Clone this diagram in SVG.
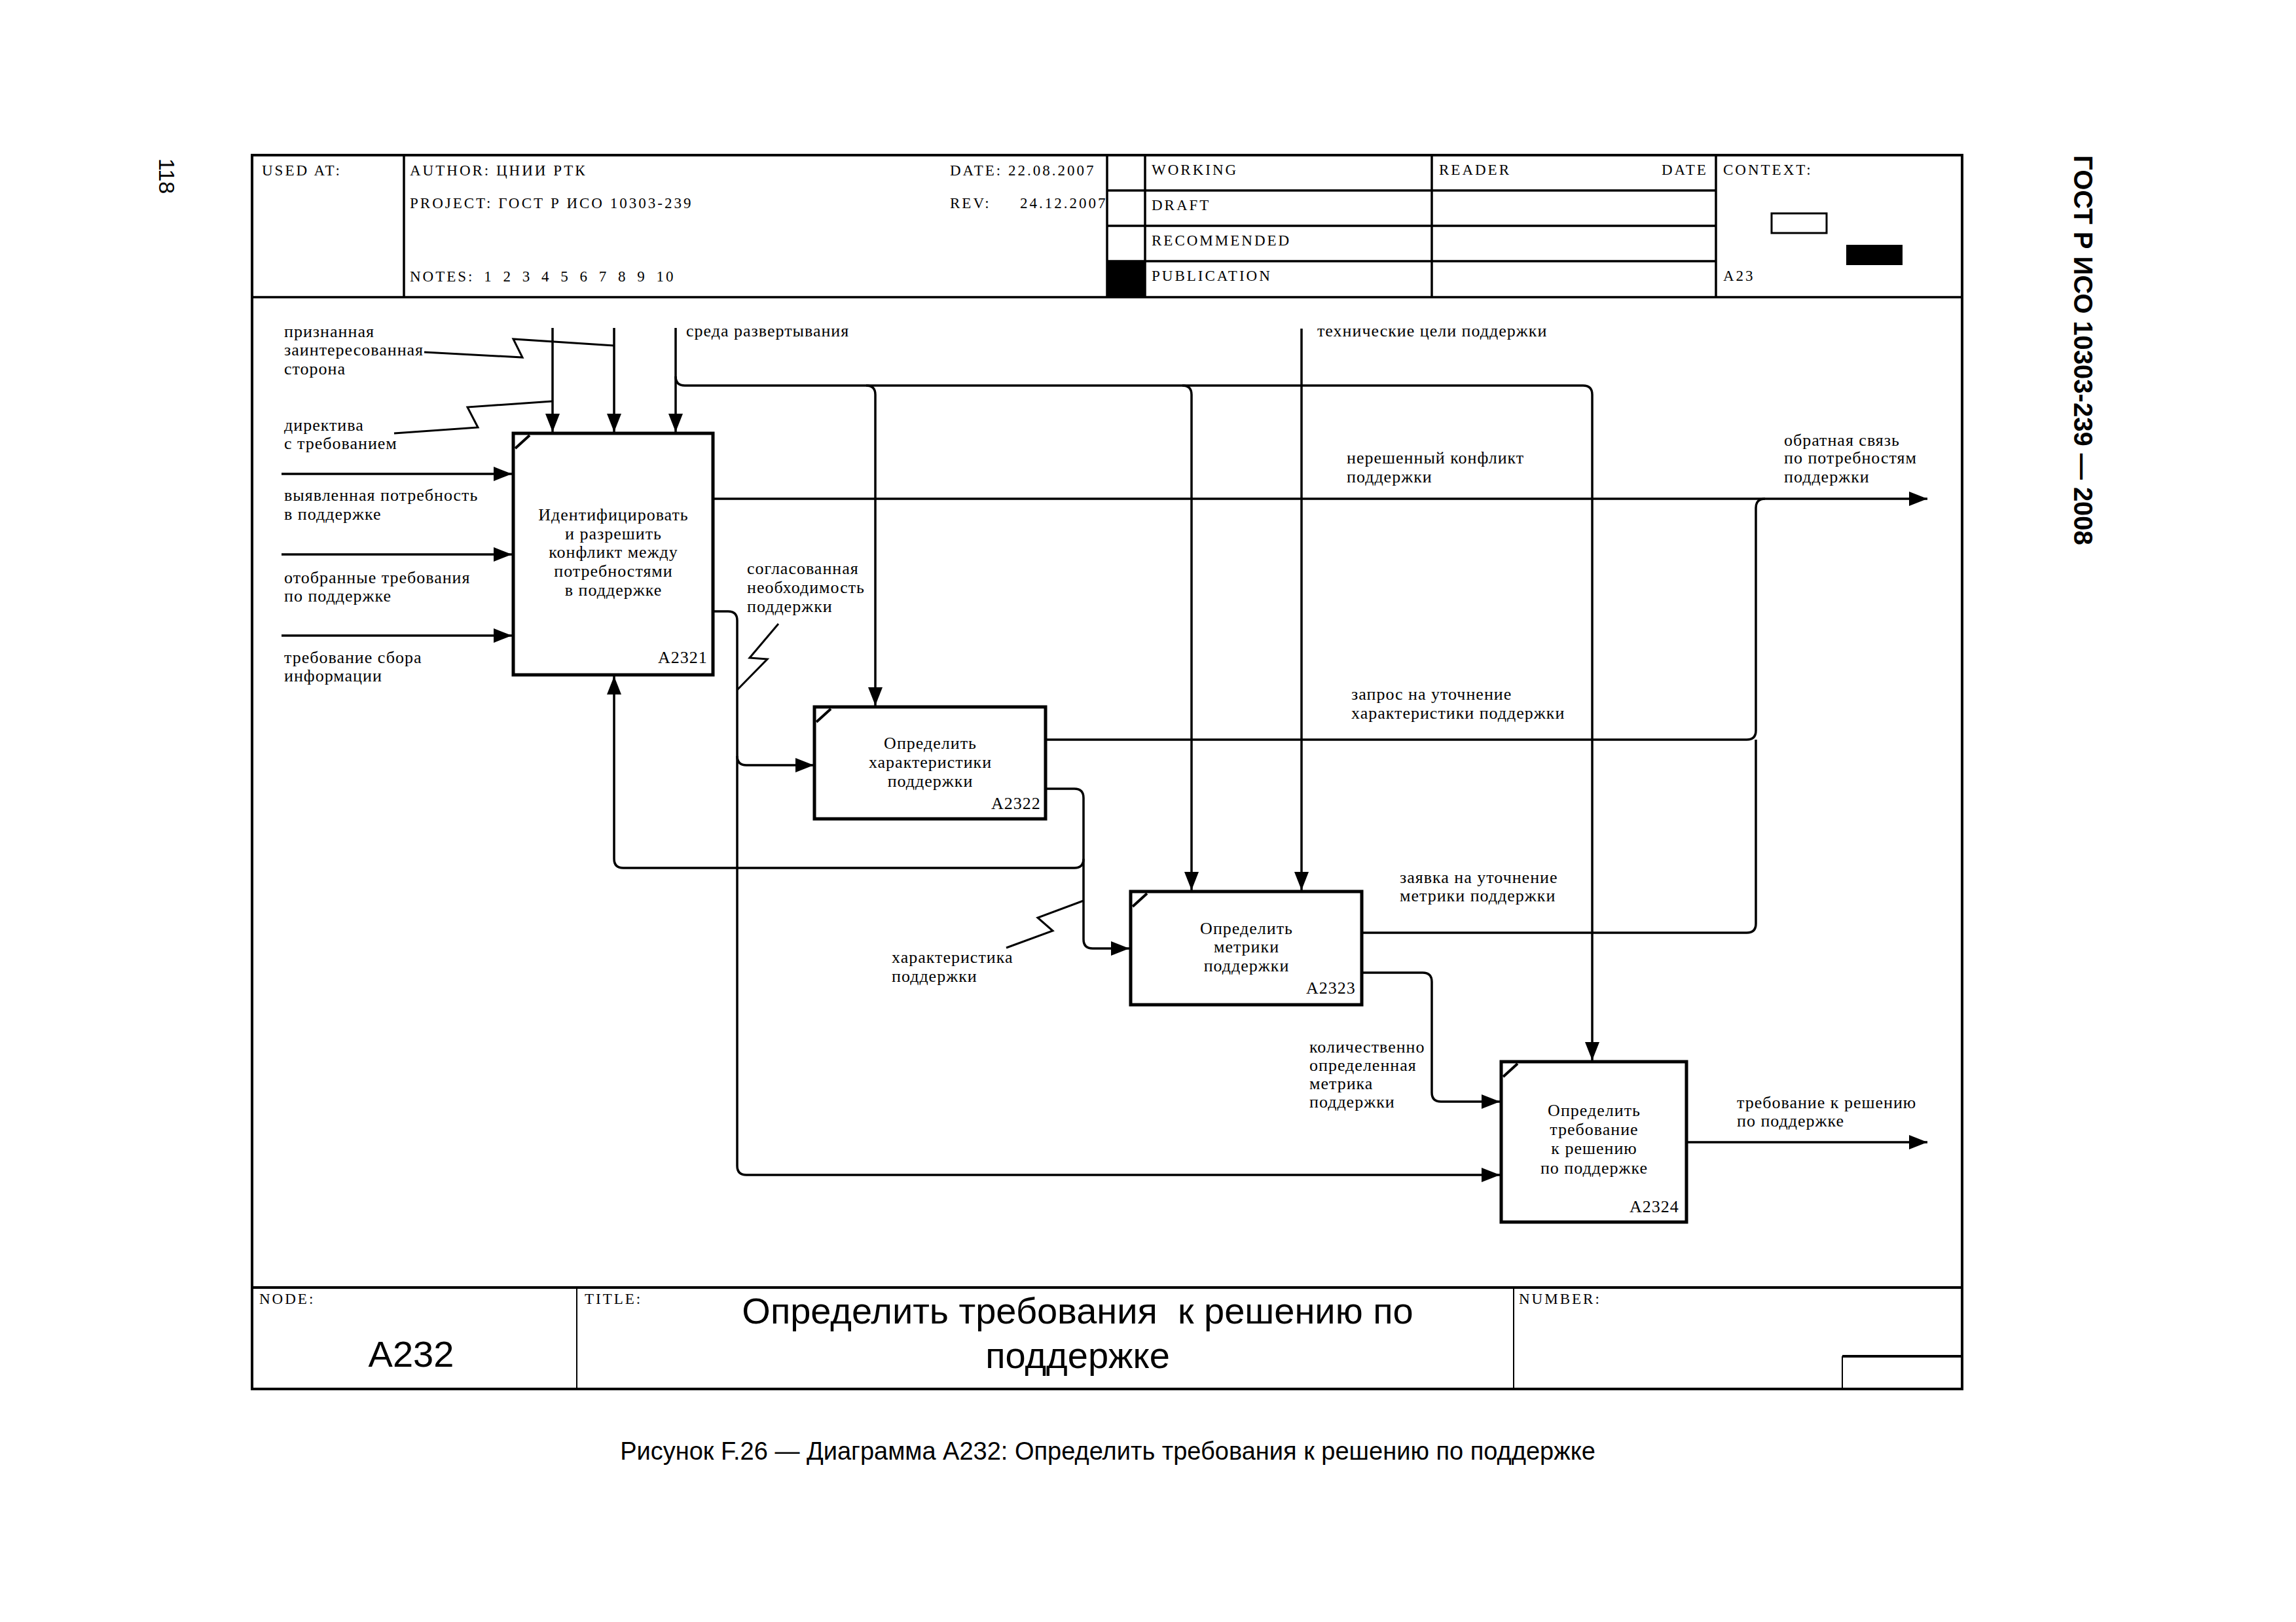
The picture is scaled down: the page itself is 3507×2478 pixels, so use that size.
<svg xmlns="http://www.w3.org/2000/svg" width="3507" height="2478" viewBox="0 0 3507 2478">
<defs>
<style>
.bg{fill:#fff}
.frame{fill:none;stroke:#000;stroke-width:4}
.ln{fill:none;stroke:#000;stroke-width:3.5}
.thin{fill:none;stroke:#000;stroke-width:2}
.box{fill:#fff;stroke:#000;stroke-width:5}
.mark{stroke:#000;stroke-width:4;fill:none}
.conn{fill:none;stroke:#000;stroke-width:3.5}
.sq{fill:none;stroke:#000;stroke-width:3}
.hdr{font-family:"Liberation Serif",serif;font-size:23px;letter-spacing:3px;fill:#000}
.lbl{font-family:"Liberation Serif",serif;font-size:26px;letter-spacing:1px;fill:#000}
.bx{font-family:"Liberation Serif",serif;font-size:26px;letter-spacing:1px;fill:#000;text-anchor:middle}
.big{font-family:"Liberation Sans",Arial,sans-serif;font-size:56px;fill:#000;text-anchor:middle}
.cap{font-family:"Liberation Sans",Arial,sans-serif;font-size:38px;fill:#000;text-anchor:middle}
</style>
<marker id="ah" markerUnits="userSpaceOnUse" markerWidth="30" markerHeight="24" refX="28" refY="11" orient="auto"><path d="M0,0 L28,11 L0,22 z" fill="#000"/></marker>
</defs>
<rect class="bg" x="0" y="0" width="3507" height="2478"/>

<g id="page">
<text font-family="Liberation Sans,Arial,sans-serif" font-size="34" transform="translate(243,242) rotate(90)">118</text>
<text font-family="Liberation Sans,Arial,sans-serif" font-size="40" font-weight="bold" transform="translate(3168,237) rotate(90)">ГОСТ Р ИСО 10303-239 — 2008</text>
<text class="cap" x="1692" y="2230">Рисунок F.26 — Диаграмма A232: Определить требования к решению по поддержке</text>
</g>

<g id="frame">
<rect class="frame" x="385" y="237" width="2612" height="1885"/>
<line class="ln" x1="385" y1="454" x2="2997" y2="454"/>
<line class="ln" x1="617" y1="237" x2="617" y2="454"/>
<line class="ln" x1="1691" y1="237" x2="1691" y2="454"/>
<line class="ln" x1="1749" y1="237" x2="1749" y2="454"/>
<line class="ln" x1="2187" y1="237" x2="2187" y2="454"/>
<line class="ln" x1="2621" y1="237" x2="2621" y2="454"/>
<line class="ln" x1="1691" y1="291" x2="2621" y2="291"/>
<line class="ln" x1="1691" y1="345" x2="2621" y2="345"/>
<line class="ln" x1="1691" y1="399" x2="2621" y2="399"/>
<rect x="1691" y="399" width="58" height="55" fill="#000"/>
<rect x="2706" y="326" width="84" height="30" fill="none" stroke="#000" stroke-width="3"/>
<rect x="2820" y="374" width="86" height="31" fill="#000"/>
<line class="frame" x1="385" y1="1967" x2="2997" y2="1967"/>
<line class="thin" x1="881" y1="1967" x2="881" y2="2122"/>
<line class="thin" x1="2312" y1="1967" x2="2312" y2="2122"/>
<line class="frame" x1="2814" y1="2072" x2="2997" y2="2072"/>
<line class="thin" x1="2814" y1="2072" x2="2814" y2="2122"/>
</g>

<g id="header">
<text class="hdr" x="400" y="268">USED AT:</text>
<text class="hdr" x="626" y="268">AUTHOR: ЦНИИ РТК</text>
<text class="hdr" x="1451" y="268">DATE: 22.08.2007</text>
<text class="hdr" x="626" y="318">PROJECT: ГОСТ Р ИСО 10303-239</text>
<text class="hdr" x="1451" y="318">REV:</text>
<text class="hdr" x="1558" y="318">24.12.2007</text>
<text class="hdr" x="626" y="430" word-spacing="6">NOTES: 1 2 3 4 5 6 7 8 9 10</text>
<text class="hdr" x="1759" y="267">WORKING</text>
<text class="hdr" x="1759" y="321">DRAFT</text>
<text class="hdr" x="1759" y="375">RECOMMENDED</text>
<text class="hdr" x="1759" y="429">PUBLICATION</text>
<text class="hdr" x="2198" y="267">READER</text>
<text class="hdr" x="2538" y="267">DATE</text>
<text class="hdr" x="2632" y="267">CONTEXT:</text>
<text class="hdr" x="2632" y="429">A23</text>
</g>

<g id="footer">
<text class="hdr" x="396" y="1992" font-size="21" letter-spacing="2">NODE:</text>
<text class="hdr" x="893" y="1992" font-size="21" letter-spacing="2">TITLE:</text>
<text class="hdr" x="2320" y="1992" font-size="21" letter-spacing="2">NUMBER:</text>
<text class="big" x="628" y="2088">A232</text>
<text class="big" x="1646" y="2022" xml:space="preserve">Определить требования  к решению по</text>
<text class="big" x="1646" y="2090">поддержке</text>
</g>

<g id="connectors">
<path class="conn" d="M430 724 H782" marker-end="url(#ah)"/>
<path class="conn" d="M430 847 H782" marker-end="url(#ah)"/>
<path class="conn" d="M430 971 H782" marker-end="url(#ah)"/>
<path class="conn" d="M844 501 V660" marker-end="url(#ah)"/>
<path class="conn" d="M938 501 V660" marker-end="url(#ah)"/>
<path class="conn" d="M1032 501 V660" marker-end="url(#ah)"/>
<path class="conn" d="M1032 575 Q1032 589 1046 589 H2418 Q2432 589 2432 603 V1620" marker-end="url(#ah)"/>
<path class="conn" d="M1323 589 Q1337 589 1337 603 V1078" marker-end="url(#ah)"/>
<path class="conn" d="M1806 589 Q1820 589 1820 603 V1360" marker-end="url(#ah)"/>
<path class="conn" d="M1988 502 V1360" marker-end="url(#ah)"/>
<path class="conn" d="M1089 762 H2944" marker-end="url(#ah)"/>
<path class="conn" d="M1597 1130 H2668 Q2682 1130 2682 1116 V776 Q2682 762 2696 762"/>
<path class="conn" d="M2080 1425 H2668 Q2682 1425 2682 1411 V1130"/>
<path class="conn" d="M1089 934 H1112 Q1126 934 1126 948 V1781 Q1126 1795 1140 1795 H2291" marker-end="url(#ah)"/>
<path class="conn" d="M1126 1155 Q1126 1169 1140 1169 H1243" marker-end="url(#ah)"/>
<path class="conn" d="M1597 1205 H1641 Q1655 1205 1655 1219 V1435 Q1655 1449 1669 1449 H1725" marker-end="url(#ah)"/>
<path class="conn" d="M1655 1312 Q1655 1326 1641 1326 H952 Q938 1326 938 1312 V1033" marker-end="url(#ah)"/>
<path class="conn" d="M2080 1486 H2173 Q2187 1486 2187 1500 V1669 Q2187 1683 2201 1683 H2291" marker-end="url(#ah)"/>
<path class="conn" d="M2576 1745 H2944" marker-end="url(#ah)"/>
<path class="sq" d="M648 538 L798 546 L784 518 L938 528"/>
<path class="sq" d="M602 662 L730 653 L714 622 L844 613"/>
<path class="sq" d="M1189 953 L1145 1005 L1172 1007 L1126 1054"/>
<path class="sq" d="M1537 1448 L1608 1422 L1585 1402 L1655 1376"/>
</g>

<g id="node-A2321">
<rect class="box" x="784" y="662" width="305" height="369"/>
<line class="mark" x1="787" y1="685" x2="809" y2="665"/>
<text class="bx" x="937" y="795">Идентифицировать</text>
<text class="bx" x="937" y="824">и разрешить</text>
<text class="bx" x="937" y="852">конфликт между</text>
<text class="bx" x="937" y="881">потребностями</text>
<text class="bx" x="937" y="910">в поддержке</text>
<text class="lbl" x="1005" y="1013">A2321</text>
</g>

<g id="node-A2322">
<rect class="box" x="1244" y="1080" width="353" height="171"/>
<line class="mark" x1="1247" y1="1103" x2="1269" y2="1083"/>
<text class="bx" x="1421" y="1144">Определить</text>
<text class="bx" x="1421" y="1173">характеристики</text>
<text class="bx" x="1421" y="1202">поддержки</text>
<text class="lbl" x="1514" y="1236">A2322</text>
</g>

<g id="node-A2323">
<rect class="box" x="1727" y="1362" width="353" height="173"/>
<line class="mark" x1="1730" y1="1385" x2="1752" y2="1365"/>
<text class="bx" x="1904" y="1427">Определить</text>
<text class="bx" x="1904" y="1455">метрики</text>
<text class="bx" x="1904" y="1484">поддержки</text>
<text class="lbl" x="1995" y="1518">A2323</text>
</g>

<g id="node-A2324">
<rect class="box" x="2293" y="1622" width="283" height="245"/>
<line class="mark" x1="2296" y1="1645" x2="2318" y2="1625"/>
<text class="bx" x="2435" y="1705">Определить</text>
<text class="bx" x="2435" y="1734">требование</text>
<text class="bx" x="2435" y="1763">к решению</text>
<text class="bx" x="2435" y="1793">по поддержке</text>
<text class="lbl" x="2489" y="1852">A2324</text>
</g>

<g id="labels">
<text class="lbl" x="434" y="515">признанная</text>
<text class="lbl" x="434" y="543">заинтересованная</text>
<text class="lbl" x="434" y="572">сторона</text>
<text class="lbl" x="434" y="658">директива</text>
<text class="lbl" x="434" y="686">с требованием</text>
<text class="lbl" x="434" y="765">выявленная потребность</text>
<text class="lbl" x="434" y="794">в поддержке</text>
<text class="lbl" x="434" y="891">отобранные требования</text>
<text class="lbl" x="434" y="919">по поддержке</text>
<text class="lbl" x="434" y="1013">требование сбора</text>
<text class="lbl" x="434" y="1041">информации</text>
<text class="lbl" x="1048" y="514">среда развертывания</text>
<text class="lbl" x="2012" y="514">технические цели поддержки</text>
<text class="lbl" x="2057" y="708">нерешенный конфликт</text>
<text class="lbl" x="2057" y="737">поддержки</text>
<text class="lbl" x="2725" y="681">обратная связь</text>
<text class="lbl" x="2725" y="708">по потребностям</text>
<text class="lbl" x="2725" y="737">поддержки</text>
<text class="lbl" x="1141" y="877">согласованная</text>
<text class="lbl" x="1141" y="906">необходимость</text>
<text class="lbl" x="1141" y="935">поддержки</text>
<text class="lbl" x="2064" y="1069">запрос на уточнение</text>
<text class="lbl" x="2064" y="1098">характеристики поддержки</text>
<text class="lbl" x="2138" y="1349">заявка на уточнение</text>
<text class="lbl" x="2138" y="1377">метрики поддержки</text>
<text class="lbl" x="1362" y="1471">характеристика</text>
<text class="lbl" x="1362" y="1500">поддержки</text>
<text class="lbl" x="2000" y="1608">количественно</text>
<text class="lbl" x="2000" y="1636">определенная</text>
<text class="lbl" x="2000" y="1664">метрика</text>
<text class="lbl" x="2000" y="1692">поддержки</text>
<text class="lbl" x="2653" y="1693">требование к решению</text>
<text class="lbl" x="2653" y="1721">по поддержке</text>
</g>
</svg>
